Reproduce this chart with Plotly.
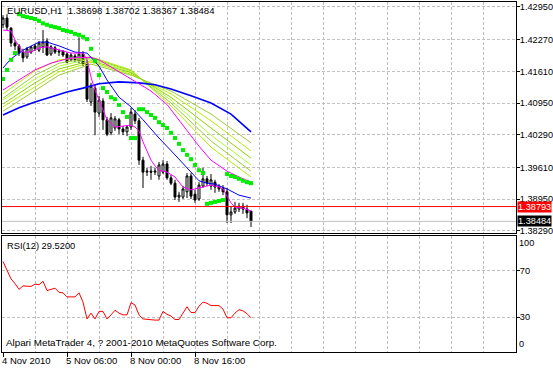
import plotly.graph_objects as go

# ---------------- data ----------------
bars = list(range(63))
open_ = [1.4258,1.4272,1.4251,1.4220,1.4214,1.4201,1.4191,1.4201,1.4214,1.4205,
         1.4212,1.4224,1.4197,1.4210,1.4201,1.4203,1.4197,1.4185,1.4193,1.4182,
         1.4197,1.4178,1.4097,1.4126,1.4074,1.4099,1.4060,1.4033,1.4043,1.4060,
         1.4041,1.4035,1.4045,1.4072,1.4058,1.3976,1.3951,1.3953,1.3951,1.3943,
         1.3951,1.3968,1.3939,1.3928,1.3899,1.3899,1.3910,1.3943,1.3905,1.3895,
         1.3922,1.3937,1.3922,1.3930,1.3920,1.3918,1.3910,1.3862,1.3868,1.3874,
         1.3880,1.3874,1.38698]
high = [1.4278,1.4280,1.4253,1.4226,1.4218,1.4208,1.4212,1.4214,1.4218,1.4224,
        1.4247,1.4230,1.4216,1.4214,1.4208,1.4205,1.4201,1.4199,1.4197,1.4232,
        1.4203,1.4185,1.4137,1.4133,1.4110,1.4105,1.4066,1.4074,1.4068,1.4064,
        1.4047,1.4049,1.4085,1.4080,1.4064,1.3983,1.3960,1.3964,1.3960,1.3972,
        1.3976,1.3974,1.3945,1.3935,1.3910,1.3922,1.3949,1.3949,1.3914,1.3930,
        1.3960,1.3943,1.3947,1.3935,1.3926,1.3924,1.3918,1.3880,1.3889,1.3887,
        1.3887,1.3883,1.38702]
low = [1.4251,1.4247,1.4212,1.4205,1.4193,1.4180,1.4187,1.4197,1.4203,1.4201,
       1.4199,1.4193,1.4193,1.4197,1.4193,1.4191,1.4178,1.4182,1.4180,1.4178,
       1.4172,1.4097,1.4089,1.4028,1.4066,1.4039,1.4026,1.4028,1.4037,1.4030,
       1.4028,1.4026,1.4039,1.4051,1.3966,1.3918,1.3943,1.3935,1.3945,1.3935,
       1.3947,1.3935,1.3924,1.3893,1.3889,1.3895,1.3897,1.3895,1.3887,1.3891,
       1.3918,1.3922,1.3914,1.3908,1.3910,1.3903,1.3845,1.3845,1.3864,1.3868,
       1.3864,1.3855,1.38367]
close = [1.4272,1.4253,1.4220,1.4214,1.4199,1.4189,1.4208,1.4212,1.4208,1.4220,
         1.4222,1.4195,1.4212,1.4201,1.4203,1.4195,1.4180,1.4195,1.4185,1.4197,
         1.4176,1.4103,1.4130,1.4076,1.4101,1.4060,1.4030,1.4064,1.4062,1.4041,
         1.4035,1.4045,1.4076,1.4058,1.3976,1.3951,1.3953,1.3951,1.3953,1.3966,
         1.3968,1.3939,1.3928,1.3899,1.3903,1.3916,1.3943,1.3901,1.3893,1.3924,
         1.3937,1.3928,1.3935,1.3920,1.3916,1.3910,1.3862,1.3868,1.3876,1.3880,
         1.3874,1.3866,1.38484]

sar = [1.4145,1.4164,1.4185,1.4199,1.4280,1.4276,1.4274,1.4272,1.4270,1.4266,
       1.4261,1.4258,1.4255,1.4253,1.4251,1.4247,1.4245,1.4243,1.4239,1.4237,
       1.4233,1.4228,1.4208,1.4183,1.4153,1.4126,1.4118,1.4107,1.4103,1.4091,
       1.4076,1.4066,1.4022,1.4022,1.4082,1.4082,1.4076,1.4070,1.4064,1.4055,
       1.4049,1.4043,1.4033,1.4022,1.4010,1.3997,1.3987,1.3978,1.3966,1.3955,
       1.3949,1.3885,1.3887,1.3889,1.3891,1.3893,1.3947,1.3943,1.3941,1.3937,
       1.3933,1.3930,1.3928]

rsi = [78,71,63,59,54,57,56.5,56.5,58.5,58,
       61,53,54,55,51.5,51,47.5,47.5,47.5,51,
       43,28.5,33.5,28.5,35,35,28.5,32,36,33.5,
       32,32,42.5,40.5,32,28.5,28,28,27.5,27.5,
       35,32.5,31,28,28,33.5,39,34,34,39.5,
       43,42,40,40,40,37,29.5,29.5,33.5,36.5,
       35.5,33,29.52]

ma_fast_x = [0,2,3,4,5,7,9,11,14,17,20,21,22,23,24,25,26,28,30,32,33,34,35,36,37,38,39,41,43,44,45,47,49,52,54,55,56,57,58,60,62]
ma_fast = [1.4247,1.4245,1.4226,1.4212,1.4201,1.4201,1.4210,1.4212,1.4205,1.4199,1.4199,1.4185,1.4149,1.4122,1.4101,1.4080,1.4060,1.4045,1.4047,1.4049,1.4045,1.4037,1.4014,1.3993,1.3976,1.3964,1.3955,1.3951,1.3941,1.3930,1.3920,1.3914,1.3918,1.3924,1.3920,1.3916,1.3901,1.3887,1.3878,1.3876,1.3870]

ma_mid_x = [0,2,5,9,11,14,18,21,24,26,29,32,35,39,43,47,49,51,53,56,59,62]
ma_mid = [1.4168,1.4187,1.4205,1.4222,1.4222,1.4214,1.4201,1.4199,1.4172,1.4143,1.4107,1.4087,1.4060,1.4022,1.3987,1.3951,1.3933,1.3928,1.3926,1.3916,1.3903,1.3897]

ma_slow_x = [0,4,8,12,16,20,24,29,34,38,42,47,52,57,59,62]
ma_slow = [1.4070,1.4085,1.4097,1.4108,1.4118,1.4126,1.4135,1.4139,1.4137,1.4133,1.4124,1.4110,1.4095,1.4072,1.4058,1.4035]

ma_pink_x = [0,4,8,12,16,19,22,24,27,32,37,41,44,47,49,52,56,59,62]
ma_pink = [1.4122,1.4143,1.4164,1.4178,1.4187,1.4190,1.4190,1.4185,1.4170,1.4145,1.4120,1.4092,1.4060,1.4028,1.4005,1.3976,1.3953,1.3941,1.3930]

fan_x = [0,8,14,22,32,42,52,62]
fan_1 = [1.4114,1.4162,1.4185,1.4191,1.4164,1.4089,1.4003,1.3941]
fan_2 = [1.4105,1.4153,1.4178,1.4189,1.4162,1.4095,1.4016,1.3953]
fan_3 = [1.4101,1.4145,1.4172,1.4187,1.4160,1.4101,1.4028,1.3966]
fan_4 = [1.4093,1.4137,1.4166,1.4183,1.4158,1.4107,1.4043,1.3980]
fan_5 = [1.4087,1.4128,1.4160,1.4180,1.4155,1.4114,1.4058,1.3995]
fan_6 = [1.4078,1.4120,1.4153,1.4176,1.4153,1.4120,1.4072,1.4012]

price_ticks = [1.42950, 1.42270, 1.41610, 1.40950, 1.40290, 1.39610, 1.38950, 1.38290]
rsi_ticks = [30, 70]
grid_bars = [8, 16, 24, 32, 40, 48, 56, 64, 72, 80, 88, 96, 104, 112, 120]
label_bars = [0, 16, 32, 48]
label_text = ["4 Nov 2010", "5 Nov 06:00", "8 Nov 00:00", "8 Nov 16:00"]
level_line = 1.38793
bid_line = 1.38484
header = "EURUSD,H1  1.38698 1.38702 1.38367 1.38484"
rsi_title = "RSI(12) 29.5200"
copyright = "Alpari MetaTrader 4, ? 2001-2010 MetaQuotes Software Corp."

# ---------------- figure ----------------
FONT = "Liberation Sans, Arial, sans-serif"
GRID = "#C0C0C0"
DASH = "3px,2px"

fig = go.Figure()

fig.add_trace(go.Candlestick(
    x=bars, open=open_, high=high, low=low, close=close,
    xaxis="x2", yaxis="y",
    increasing=dict(line=dict(color="black", width=1), fillcolor="white"),
    decreasing=dict(line=dict(color="black", width=1), fillcolor="black"),
    whiskerwidth=0, showlegend=False, hoverinfo="skip"))

fan_colors = ["#B4F000", "#9ACD32", "#ADFF2F", "#8CD200", "#B4F000", "#9ACD32"]
for ys, c in zip([fan_1, fan_2, fan_3, fan_4, fan_5, fan_6], fan_colors):
    fig.add_trace(go.Scatter(x=fan_x, y=ys, mode="lines", xaxis="x2", yaxis="y",
                             line=dict(color=c, width=1), showlegend=False, hoverinfo="skip"))

fig.add_trace(go.Scatter(x=ma_slow_x, y=ma_slow, mode="lines", xaxis="x2", yaxis="y",
                         line=dict(color="#0000FF", width=1.6), showlegend=False, hoverinfo="skip"))
fig.add_trace(go.Scatter(x=ma_pink_x, y=ma_pink, mode="lines", xaxis="x2", yaxis="y",
                         line=dict(color="#FF00FF", width=1), showlegend=False, hoverinfo="skip"))
fig.add_trace(go.Scatter(x=ma_mid_x, y=ma_mid, mode="lines", xaxis="x2", yaxis="y",
                         line=dict(color="#0000FF", width=1), showlegend=False, hoverinfo="skip"))
fig.add_trace(go.Scatter(x=ma_fast_x, y=ma_fast, mode="lines", xaxis="x2", yaxis="y",
                         line=dict(color="#FF00FF", width=1), showlegend=False, hoverinfo="skip"))
fig.add_trace(go.Scatter(x=bars, y=sar, mode="markers", xaxis="x2", yaxis="y",
                         marker=dict(symbol="square", size=4, color="#00EE00", line=dict(width=0)),
                         showlegend=False, hoverinfo="skip"))

fig.add_trace(go.Scatter(x=bars, y=rsi, mode="lines", xaxis="x", yaxis="y2",
                         line=dict(color="#FF0000", width=1), showlegend=False, hoverinfo="skip"))
# empty trace that carries the date tick marks axis
fig.add_trace(go.Scatter(x=[], y=[], xaxis="x3", yaxis="y2", showlegend=False, hoverinfo="skip"))

fig.add_shape(type="line", xref="x2 domain", x0=0, x1=1, yref="y", y0=level_line, y1=level_line,
              line=dict(color="#FF0000", width=1))
fig.add_shape(type="line", xref="x2 domain", x0=0, x1=1, yref="y", y0=bid_line, y1=bid_line,
              line=dict(color="#C0C0C0", width=1))

xr = [-0.25, 128.25]
common_x = dict(range=xr, showline=True, mirror=True, linecolor="black", linewidth=1,
                tickmode="array", tickvals=grid_bars, ticks="", showticklabels=False,
                showgrid=True, gridcolor=GRID, griddash=DASH, gridwidth=1,
                zeroline=False, automargin=False, fixedrange=True)
common_y = dict(side="right", showline=True, mirror=True, linecolor="black", linewidth=1,
                ticks="outside", ticklen=3, tickcolor="black", tickwidth=1,
                showgrid=True, gridcolor=GRID, griddash=DASH, gridwidth=1,
                zeroline=False, automargin=False, ticklabelstandoff=-2, fixedrange=True,
                tickfont=dict(family=FONT, size=9.2, color="black"))

fig.update_layout(
    template="none",
    width=553, height=368,
    margin=dict(l=2, r=37, t=2, b=16, pad=0),
    paper_bgcolor="white", plot_bgcolor="white",
    showlegend=False, hovermode=False,
    font=dict(family=FONT, size=10, color="black"),
    xaxis=dict(domain=[0, 1], anchor="y2", rangeslider=dict(visible=False), **common_x),
    xaxis2=dict(domain=[0, 1], anchor="y", matches="x", rangeslider=dict(visible=False), **common_x),
    xaxis3=dict(overlaying="x", anchor="y2", range=xr, tickmode="array", tickvals=label_bars,
                ticks="outside", ticklen=4, tickcolor="black", showticklabels=False,
                showgrid=False, showline=False, zeroline=False, automargin=False, fixedrange=True),
    yaxis=dict(domain=[0.34, 1], anchor="x2", range=[1.38242, 1.43054],
               tickmode="array", tickvals=price_ticks, tickformat=".5f", **common_y),
    yaxis2=dict(domain=[0, 0.33143], anchor="x", range=[0, 100],
                tickmode="array", tickvals=rsi_ticks, **common_y),
)

def tf(size):
    return dict(family=FONT, size=size, color="black")

ann = []
ann.append(dict(text=header, xref="paper", yref="paper", x=0, y=1, xanchor="left", yanchor="top",
                xshift=3, yshift=-1, showarrow=False, font=tf(9.6)))
ann.append(dict(text=rsi_title, xref="paper", yref="paper", x=0, y=0.33143, xanchor="left", yanchor="top",
                xshift=3, yshift=-3, showarrow=False, font=tf(9.3)))
ann.append(dict(text=copyright, xref="paper", yref="paper", x=0, y=0, xanchor="left", yanchor="bottom",
                xshift=2, yshift=2, showarrow=False, font=tf(9.8)))
for b, t in zip(label_bars, label_text):
    ann.append(dict(text=t, xref="x", yref="paper", x=b, y=0, xanchor="left", yanchor="top",
                    xshift=-3, yshift=-1, showarrow=False, font=tf(9.5)))
ann.append(dict(text="100", xref="paper", yref="y2", x=1, y=100, xanchor="left", yanchor="middle",
                xshift=1, yshift=-7, showarrow=False, font=tf(9.2)))
ann.append(dict(text="0", xref="paper", yref="y2", x=1, y=0, xanchor="left", yanchor="middle",
                xshift=1, yshift=8, showarrow=False, font=tf(9.2)))
ann.append(dict(text="%.5f" % level_line, xref="paper", yref="y", x=1, y=level_line,
                xanchor="left", yanchor="middle", xshift=1, showarrow=False, bgcolor="#FF0000",
                borderpad=0, font=dict(family=FONT, size=9.2, color="white")))
ann.append(dict(text="%.5f" % bid_line, xref="paper", yref="y", x=1, y=bid_line,
                xanchor="left", yanchor="middle", xshift=1, showarrow=False, bgcolor="#000000",
                borderpad=0, font=dict(family=FONT, size=9.2, color="white")))
fig.update_layout(annotations=ann)

fig.write_html("out.html", config={"displayModeBar": False},
               post_script="document.body.style.margin='0px';")
